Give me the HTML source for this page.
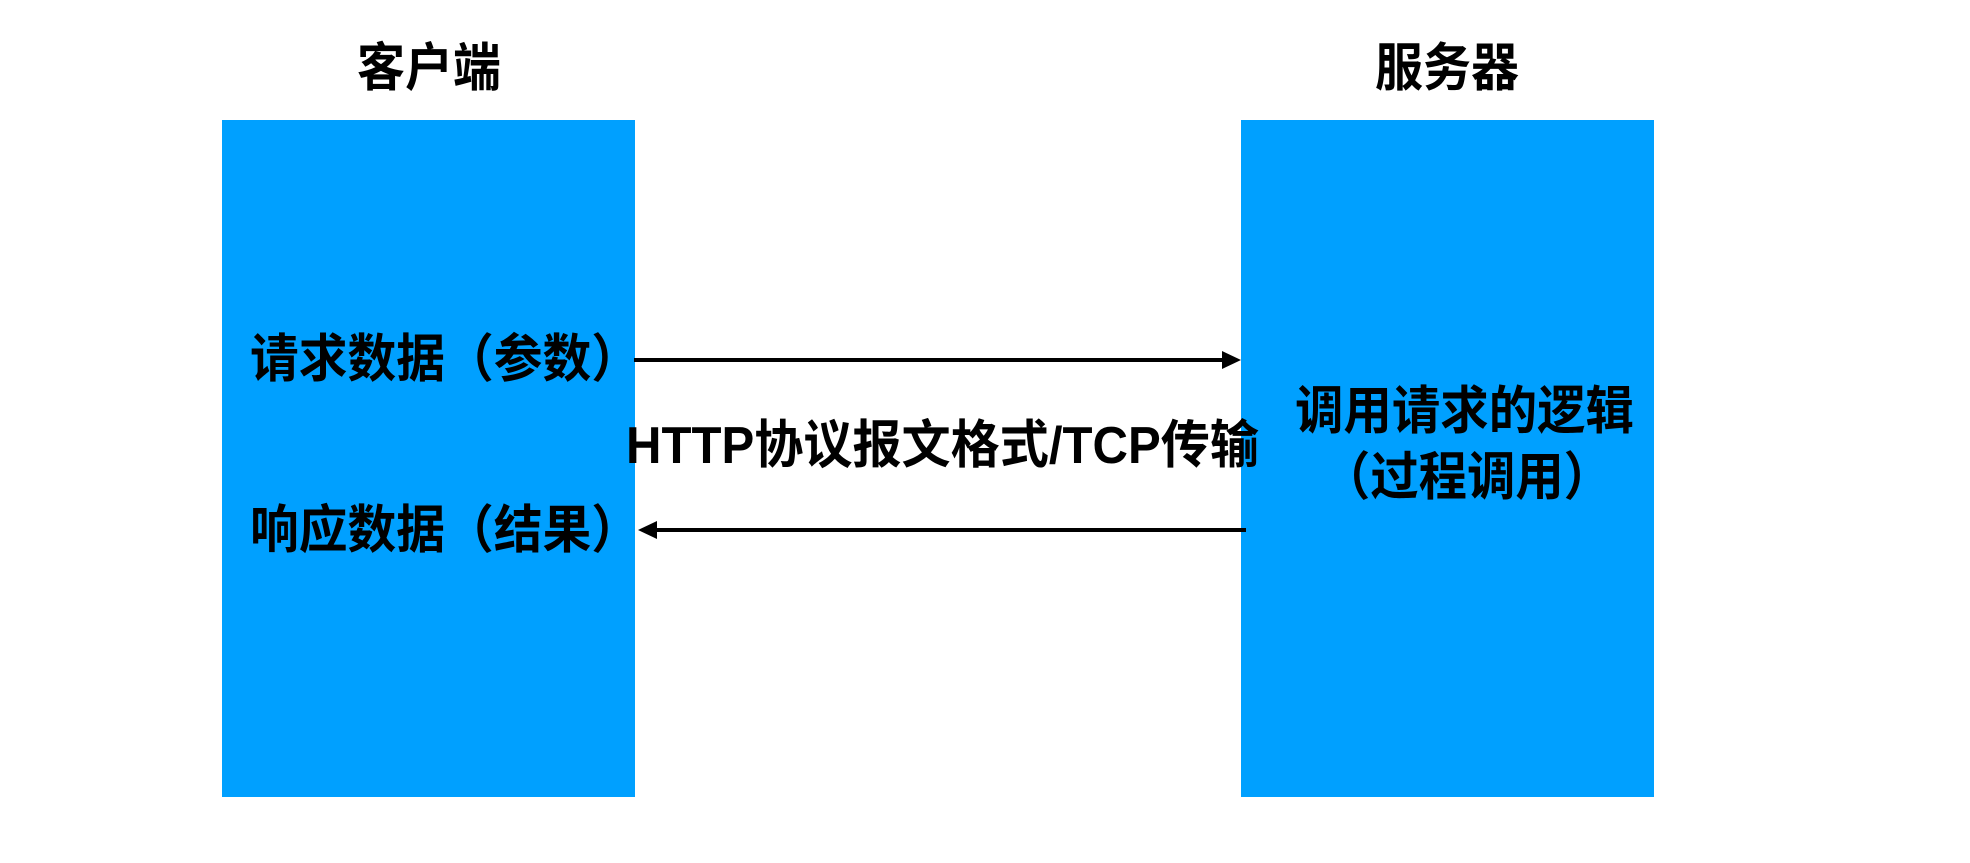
<!DOCTYPE html>
<html><head><meta charset="utf-8"><style>
html,body{margin:0;padding:0;background:#fff;}
svg text{font-family:"Liberation Sans","Noto Sans CJK SC",sans-serif;font-weight:bold;fill:#000;}
</style></head><body>
<svg width="1970" height="858" viewBox="0 0 1970 858" xmlns="http://www.w3.org/2000/svg">
<rect x="222" y="120" width="413" height="677" fill="#00A0FF"/>
<rect x="1241" y="120" width="413" height="677" fill="#00A0FF"/>
<text x="357" y="69" font-size="52" textLength="144" lengthAdjust="spacingAndGlyphs" dominant-baseline="central">客户端</text>
<text x="1375" y="69" font-size="52" textLength="144" lengthAdjust="spacingAndGlyphs" dominant-baseline="central">服务器</text>
<text x="250" y="360" font-size="52" textLength="390" lengthAdjust="spacingAndGlyphs" dominant-baseline="central">请求数据（参数）</text>
<text x="250" y="531" font-size="52" textLength="390" lengthAdjust="spacingAndGlyphs" dominant-baseline="central">响应数据（结果）</text>
<text x="626" y="446" font-size="52" textLength="633" lengthAdjust="spacingAndGlyphs" dominant-baseline="central">HTTP协议报文格式/TCP传输</text>
<text x="1295" y="412" font-size="52" textLength="339" lengthAdjust="spacingAndGlyphs" dominant-baseline="central">调用请求的逻辑</text>
<text x="1322" y="478" font-size="52" textLength="290" lengthAdjust="spacingAndGlyphs" dominant-baseline="central">（过程调用）</text>
<line x1="634" y1="360" x2="1225" y2="360" stroke="#000" stroke-width="4"/>
<polygon points="1241,360 1222,351 1222,369" fill="#000"/>
<line x1="655" y1="530" x2="1246" y2="530" stroke="#000" stroke-width="4"/>
<polygon points="638,530 657,521 657,539" fill="#000"/>
</svg>
</body></html>
